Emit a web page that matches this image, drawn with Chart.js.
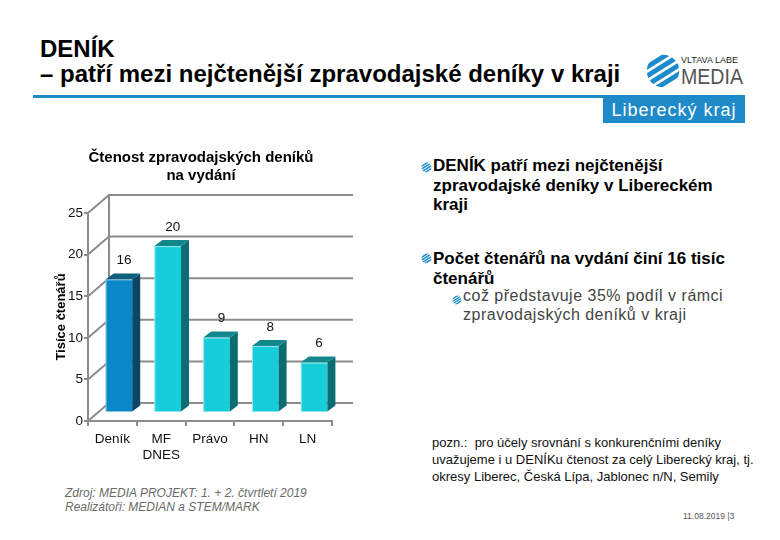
<!DOCTYPE html>
<html><head><meta charset="utf-8">
<script src="https://cdn.jsdelivr.net/npm/chart.js@4.4.0/dist/chart.umd.min.js"></script>
<style>
html,body{margin:0;padding:0;}
body{width:780px;height:540px;background:#fff;position:relative;overflow:hidden;font-family:"Liberation Sans",Arial,sans-serif;color:#000;}
.abs{position:absolute;white-space:nowrap;}
#title{left:40px;top:36px;font:bold 24px/25px "Liberation Sans",Arial,sans-serif;}
#rule{left:33px;top:95px;width:712px;height:3px;background:#1b8ac5;}
#region{left:603px;top:98px;width:142px;height:25px;background:#1e8bc8;color:#fff;font:18px/25px "Liberation Sans",Arial,sans-serif;letter-spacing:1px;text-align:center;}
.b1{left:433px;font:bold 17px/19.5px "Liberation Sans",Arial,sans-serif;}
.b2{left:463px;font:16px/18.5px "Liberation Sans",Arial,sans-serif;letter-spacing:0.5px;color:#444;}
.ic{position:absolute;width:11px;height:11px;}
#note{left:432px;top:434px;font:13px/17px "Liberation Sans",Arial,sans-serif;color:#111;}
#src{left:65px;top:486px;font:italic 12px/14px "Liberation Sans",Arial,sans-serif;color:#6a6a6a;}
#date{left:683px;top:511px;font:8.5px/10px "Liberation Sans",Arial,sans-serif;color:#555;}
#chartWrap{left:40px;top:140px;width:340px;height:345px;}
</style></head><body>
<svg width="0" height="0" style="position:absolute">
<defs>
<clipPath id="gc"><ellipse cx="20" cy="20" rx="18" ry="18"/></clipPath>
<symbol id="globe" viewBox="0 0 40 40">
<g clip-path="url(#gc)"><g transform="rotate(-32 20 20)" fill="#1b8bcb">
<rect x="-5" y="4" width="50" height="5.5" rx="2.5"/>
<rect x="-5" y="12.5" width="50" height="5.5" rx="2.5"/>
<rect x="-5" y="21" width="50" height="5.5" rx="2.5"/>
<rect x="-5" y="29.5" width="50" height="5.5" rx="2.5"/>
</g></g>
</symbol>
</defs></svg>

<div id="title" class="abs">DENÍK<br>– patří mezi nejčtenější zpravodajské deníky v kraji</div>
<svg class="abs" style="left:643px;top:50px" width="105" height="40" viewBox="0 0 105 40">
<use href="#globe" x="2" y="3" width="36" height="36"/>
<text x="38" y="13" font-family="Liberation Sans Narrow, Liberation Sans, Arial" font-size="9.5" fill="#222" textLength="57" lengthAdjust="spacingAndGlyphs">VLTAVA LABE</text>
<text x="38" y="34" font-family="Liberation Sans Narrow, Liberation Sans, Arial" font-size="22" fill="#555" textLength="62" lengthAdjust="spacingAndGlyphs">MEDIA</text>
</svg>
<div id="rule" class="abs"></div>
<div id="region" class="abs">Liberecký kraj</div>

<svg class="ic" style="left:421px;top:162px"><use href="#globe" width="11" height="11"/></svg>
<div class="abs b1" style="top:156px">DENÍK patří mezi nejčtenější<br>zpravodajské deníky v Libereckém<br>kraji</div>
<svg class="ic" style="left:421px;top:253px"><use href="#globe" width="11" height="11"/></svg>
<div class="abs b1" style="top:249px">Počet čtenářů na vydání činí 16 tisíc<br>čtenářů</div>
<svg class="ic" style="left:452px;top:295px;width:10px;height:10px"><use href="#globe" width="10" height="10"/></svg>
<div class="abs b2" style="top:287px">což představuje 35% podíl v rámci<br>zpravodajských deníků v kraji</div>

<div id="note" class="abs">pozn.:&nbsp; pro účely srovnání s konkurenčními deníky<br>uvažujeme i u DENÍKu čtenost za celý Liberecký kraj, tj.<br>okresy Liberec, Česká Lípa, Jablonec n/N, Semily</div>
<div id="src" class="abs">Zdroj: MEDIA PROJEKT: 1. + 2. čtvrtletí 2019<br>Realizátoři: MEDIAN a STEM/MARK</div>
<div id="date" class="abs">11.08.2019 |3</div>

<div id="chartWrap" class="abs"><canvas id="c" width="340" height="345"></canvas></div>

<script>
// ---- data ----
const categories = ['Deník', 'MF DNES', 'Právo', 'HN', 'LN'];
const readers = [16, 20, 9, 8, 6];
const yTickValues = [0, 5, 10, 15, 20, 25];
const chartTitle = ['Čtenost zpravodajských deníků', 'na vydání'];
const yAxisTitle = 'Tisíce čtenářů';

// ---- style ----
const FONT = '"Liberation Sans", Arial, sans-serif';
const GRID = '#8c8c8c';
const FRONT = ['#0a87c9', '#17cdd9'];
const SIDE = ['#0b4764', '#0b6d71'];
const TOP = ['#0e5e7e', '#12878c'];
const WALL_DX = 21, WALL_DY = -18;   // back wall depth
const BAR_DX = 6.5, BAR_DY = -8.5;   // bars sit mid-depth
const SIDE_DX = 8, SIDE_DY = -6;     // bar depth

const depth3D = {
  id: 'depth3D',
  beforeDatasetsDraw(chart) {
    const {ctx, chartArea: a, scales: {y}} = chart;
    ctx.save();
    ctx.strokeStyle = GRID; ctx.lineWidth = 2; ctx.lineCap = 'butt';
    y.ticks.forEach(t => {
      const py = y.getPixelForValue(t.value);
      ctx.beginPath();
      ctx.moveTo(a.left, py);
      ctx.lineTo(a.left + WALL_DX, py + WALL_DY);
      ctx.lineTo(a.right + WALL_DX, py + WALL_DY);
      ctx.stroke();
    });
    ctx.beginPath();
    ctx.moveTo(a.left + WALL_DX, a.top + WALL_DY);
    ctx.lineTo(a.left + WALL_DX, a.bottom + WALL_DY);
    ctx.stroke();
    ctx.restore();
    ctx.save();
    ctx.translate(BAR_DX, BAR_DY);
  },
  afterDatasetsDraw(chart) {
    const ctx = chart.ctx;
    const meta = chart.getDatasetMeta(0);
    meta.data.forEach((bar, i) => {
      const {x, y, base, width} = bar.getProps(['x', 'y', 'base', 'width'], true);
      const l = x - width / 2, r = x + width / 2;
      const k = i === 0 ? 0 : 1;
      ctx.fillStyle = SIDE[k];
      ctx.beginPath();
      ctx.moveTo(r, y); ctx.lineTo(r + SIDE_DX, y + SIDE_DY);
      ctx.lineTo(r + SIDE_DX, base + SIDE_DY); ctx.lineTo(r, base);
      ctx.closePath(); ctx.fill();
      ctx.fillStyle = TOP[k];
      ctx.beginPath();
      ctx.moveTo(l, y); ctx.lineTo(l + SIDE_DX, y + SIDE_DY);
      ctx.lineTo(r + SIDE_DX, y + SIDE_DY); ctx.lineTo(r, y);
      ctx.closePath(); ctx.fill();
      ctx.strokeStyle = 'rgba(255,255,255,0.55)'; ctx.lineWidth = 1;
      ctx.beginPath(); ctx.moveTo(l + 0.5, base); ctx.lineTo(l + 0.5, y + 0.5); ctx.lineTo(r, y + 0.5); ctx.stroke();
      ctx.fillStyle = '#111';
      ctx.font = '13.5px ' + FONT;
      ctx.textAlign = 'center'; ctx.textBaseline = 'middle';
      ctx.fillText(String(readers[i]), x + 5, y - 19);
    });
    ctx.restore();
  }
};

new Chart(document.getElementById('c'), {
  type: 'bar',
  data: {
    labels: categories,
    datasets: [{
      data: readers,
      backgroundColor: readers.map((v, i) => i === 0 ? FRONT[0] : FRONT[1]),
      borderWidth: 0,
      barPercentage: 0.545,
      categoryPercentage: 1
    }]
  },
  options: {
    responsive: false,
    animation: false,
    layout: {padding: {left: 0, right: 18, top: 0, bottom: 14}},
    plugins: {
      legend: {display: false},
      tooltip: {enabled: false},
      title: {
        display: true, text: chartTitle, color: '#000',
        font: {family: FONT, size: 15, weight: 'bold', lineHeight: 1.25},
        padding: {top: 8, bottom: 27.5}
      }
    },
    scales: {
      x: {
        offset: true,
        grid: {offset: true, drawOnChartArea: false, drawTicks: true, tickLength: 5, color: GRID, lineWidth: 2},
        border: {display: true, color: GRID, width: 2},
        ticks: {
          color: '#111', padding: 5, maxRotation: 0, autoSkip: false,
          font: {family: FONT, size: 13.5, lineHeight: 1.2},
          callback: (v, i) => categories[i].split(' ')
        },
        afterFit: s => { s.height = 50; }
      },
      y: {
        min: 0, max: 25,
        afterBuildTicks: s => { s.ticks = yTickValues.map(v => ({value: v})); },
        grid: {drawOnChartArea: false, drawTicks: true, tickLength: 4, color: GRID, lineWidth: 2},
        border: {display: true, color: GRID, width: 2},
        ticks: {color: '#111', padding: 1, font: {family: FONT, size: 13.5}},
        title: {display: true, text: yAxisTitle, color: '#000', font: {family: FONT, size: 13, weight: 'bold'}, padding: {top: 14, bottom: 0}},
        afterFit: s => { s.width = 48; }
      },
      spacer: {
        type: 'linear', position: 'right', display: true,
        grid: {display: false}, border: {display: false}, ticks: {display: false},
        afterFit: s => { s.width = 30; }
      }
    }
  },
  plugins: [depth3D]
});
</script>
</body></html>
